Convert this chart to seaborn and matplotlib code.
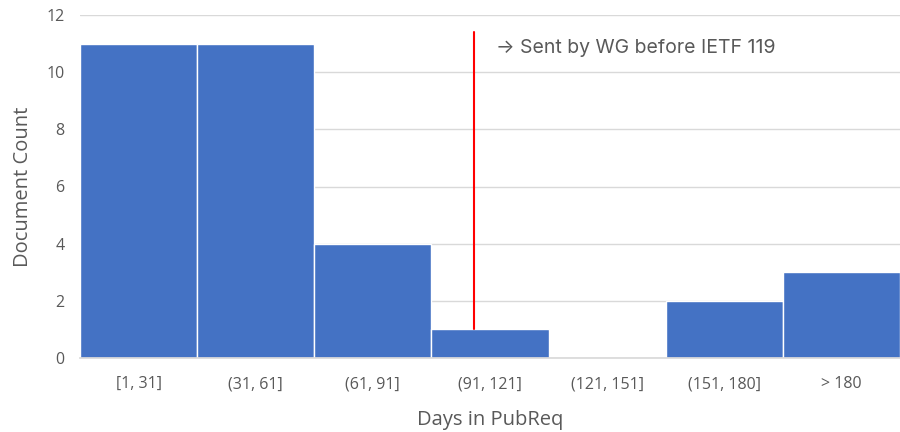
import matplotlib
matplotlib.use("Agg")
import matplotlib.pyplot as plt
import seaborn as sns
import pandas as pd

# ---------------------------
# Data
# ---------------------------
bins = ["[1, 31]", "(31, 61]", "(61, 91]", "(91, 121]", "(121, 151]", "(151, 180]", "> 180"]
counts = [11, 11, 4, 1, 0, 2, 3]

marker_x = 2.86          # category position of the IETF 119 marker
marker_y = [1.0, 11.4]
note = "\u2192 Sent by WG before IETF 119"

df = pd.DataFrame({"bin": bins, "count": counts})

sns.set_theme(style="white")
plt.rcParams["font.family"] = ["Open Sans", "DejaVu Sans"]

fig = plt.figure(figsize=(9, 4.32), dpi=100)
ax = fig.add_axes([80 / 900, 1 - 358 / 432, 820 / 900, 343 / 432])

sns.barplot(data=df, x="bin", y="count", color="#4472C4", saturation=1,
            width=1.0, edgecolor="white", linewidth=1, ax=ax, zorder=2)

ax.set_ylim(0, 12)
ax.set_xlim(-0.5, len(bins) - 0.5)
ax.set_yticks(range(0, 13, 2))
ax.yaxis.grid(True, color="#D9D9D9", linewidth=1, zorder=0)
ax.set_axisbelow(True)
for side in ["top", "right", "left"]:
    ax.spines[side].set_visible(False)
ax.spines["bottom"].set_color("#D9D9D9")

ax.tick_params(axis="both", colors="#595959", labelsize=11.5, length=0)
ax.tick_params(axis="x", pad=13)
ax.tick_params(axis="y", pad=11)

ax.set_xlabel("Days in PubReq", fontsize=14.5, color="#595959", labelpad=13)
ax.set_ylabel("Document Count", fontsize=14.5, color="#595959", labelpad=10)

# marker line + note
ax.plot([marker_x, marker_x], marker_y, color="red", linewidth=1.5, zorder=3)
ax.text(3.05, 10.85, note, fontsize=14, color="#595959", va="center",
        family=["Inter", "DejaVu Sans"])

fig.savefig("out.png", dpi=100)
